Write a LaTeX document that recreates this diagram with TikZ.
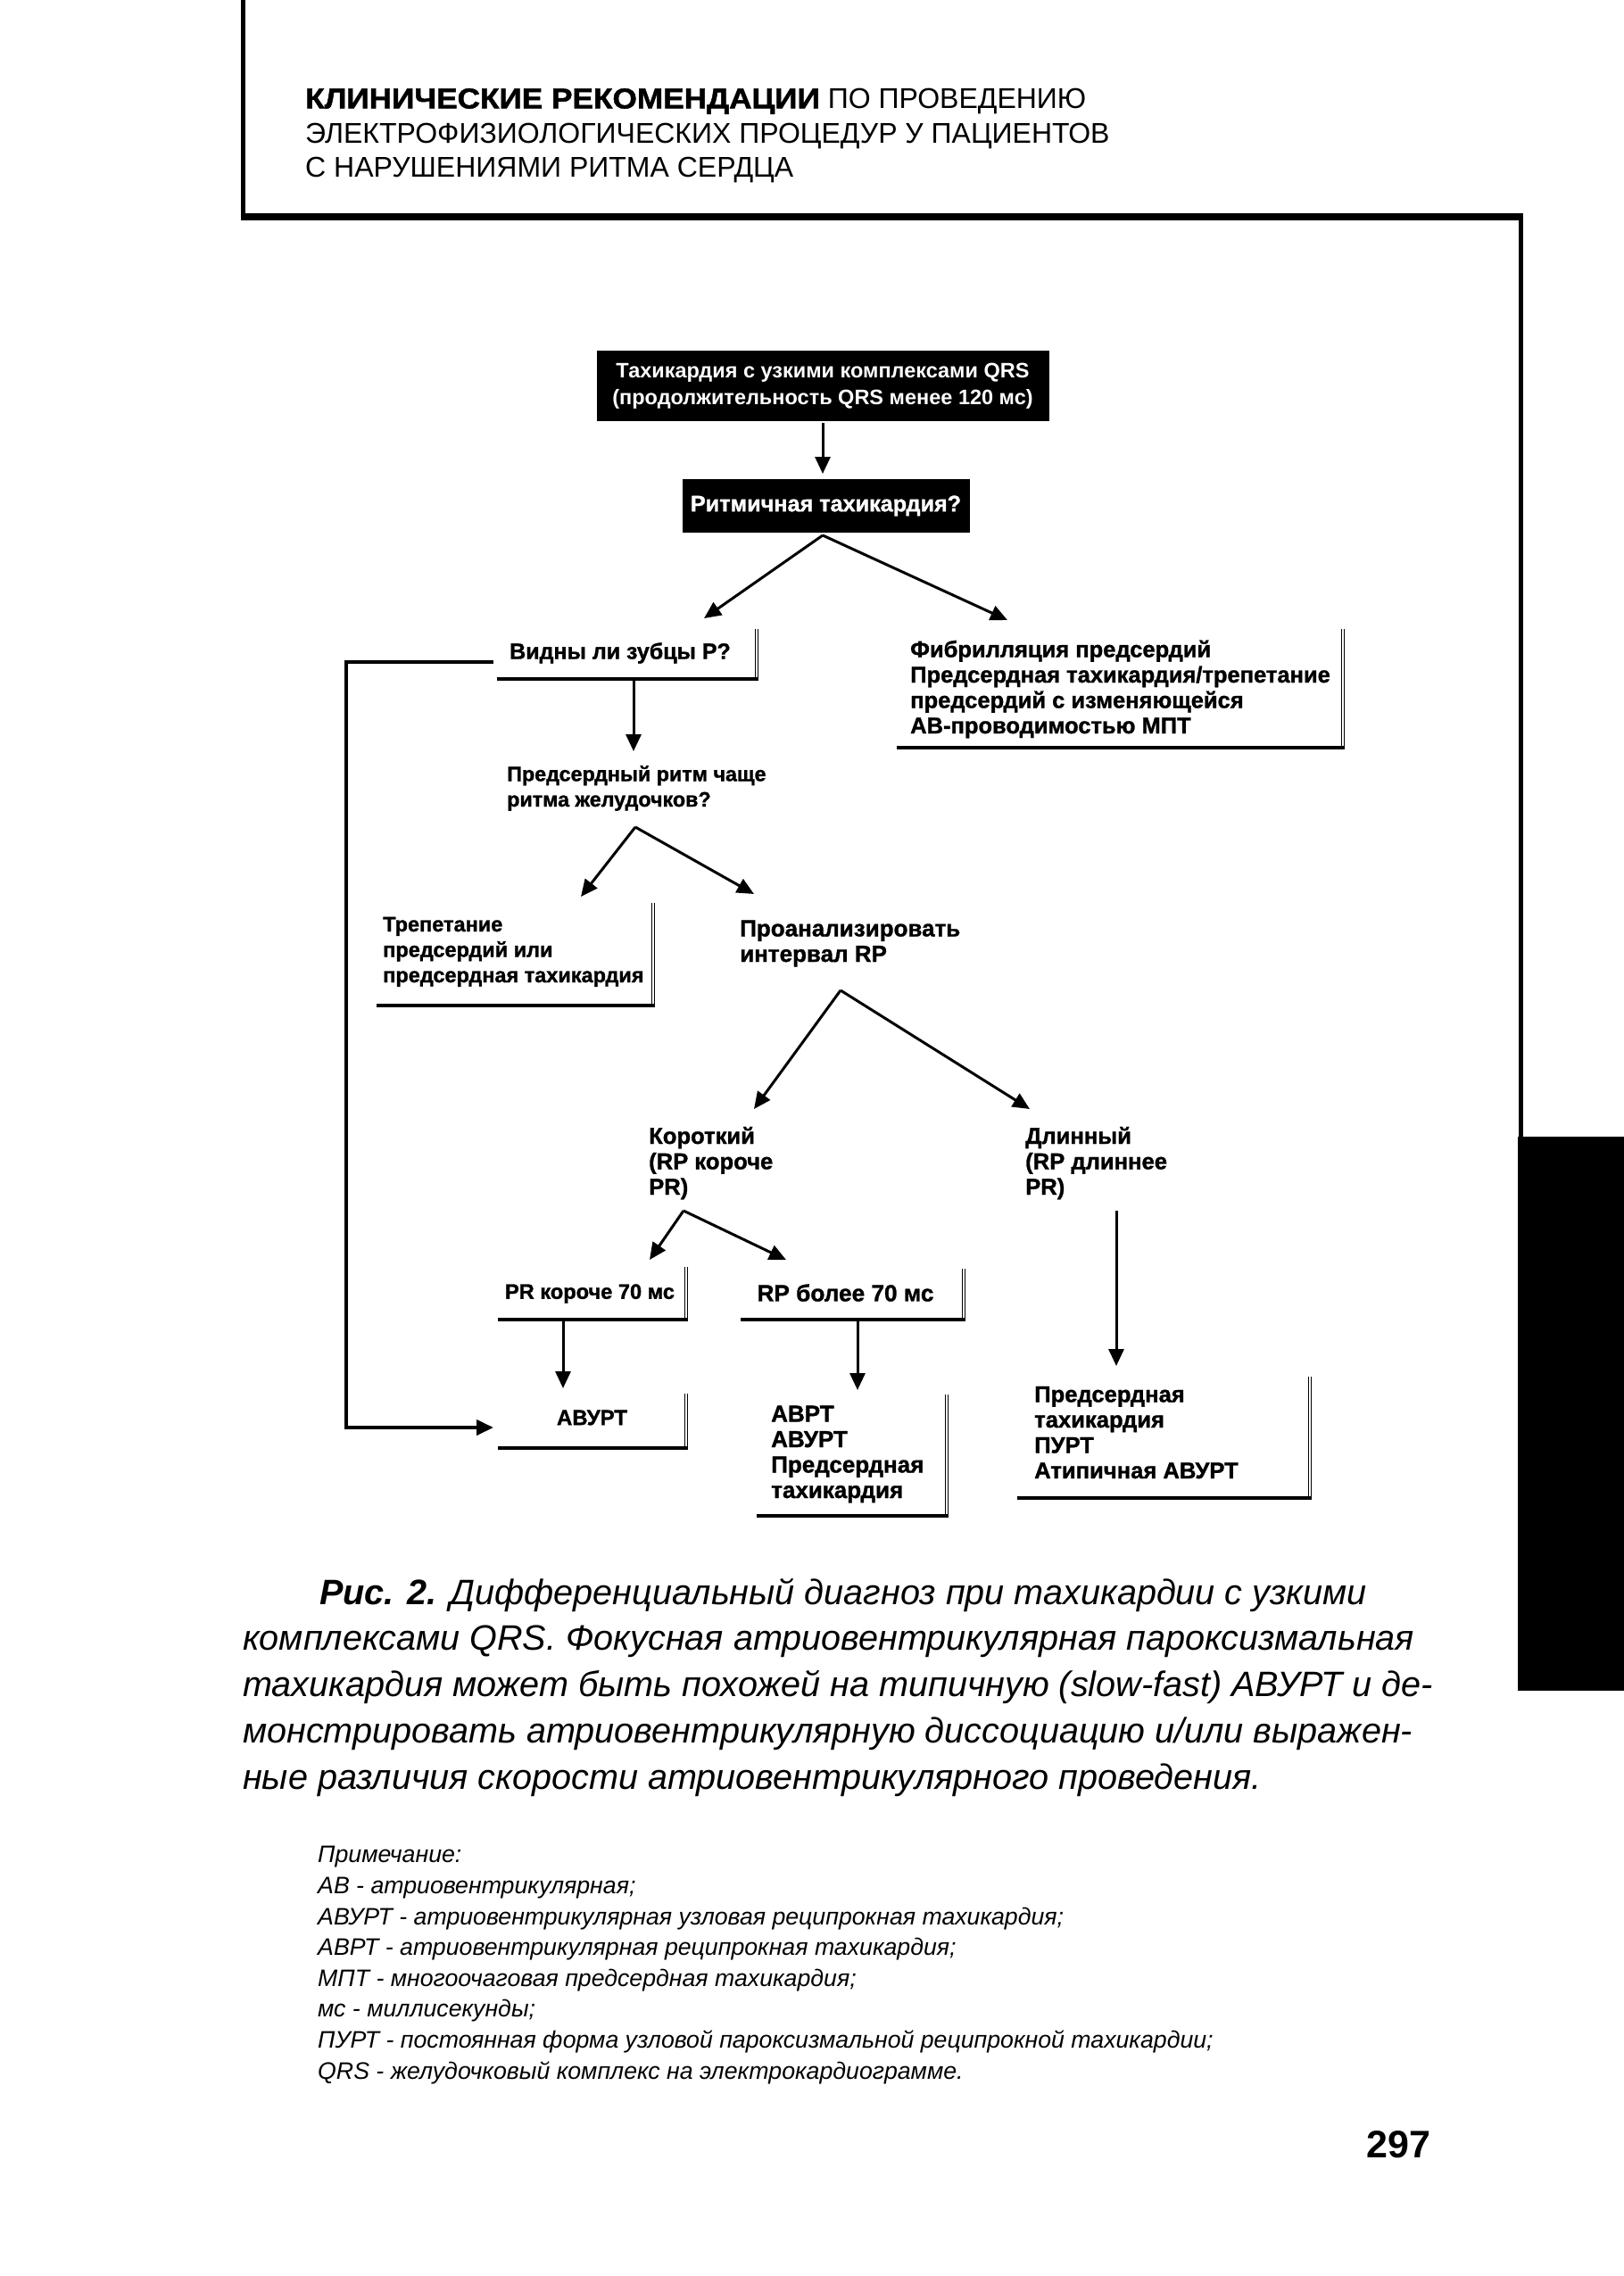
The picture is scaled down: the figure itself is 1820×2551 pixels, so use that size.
\documentclass[tikz,border=0pt]{standalone}
\usepackage{fontspec}
\setmainfont{Liberation Sans}
\newfontfamily\heavyfont{Liberation Sans}[FakeBold=1.2]
\newfontfamily\titlebold{Liberation Sans}[FakeStretch=1.1, FakeBold=1.5]
\usetikzlibrary{arrows.meta}
\newcommand\lblsize[1]{\fontsize{#1}{28.5}\selectfont\heavyfont\bfseries}
\tikzset{
  dkbox/.style={fill=black, text=white, align=center, inner sep=0pt},
  lbltxt/.style={font=\lblsize{25}, align=left, inner sep=0pt},
  arrline/.style={line width=3pt, -{Triangle[length=19pt,width=17pt]}},
  rline/.style={line width=1.4pt, double, double distance=1.4pt},
  bline/.style={line width=4.5pt},
  pgframe/.style={line width=5pt},
  captxt/.style={font=\fontsize{39.6}{51.7}\selectfont\itshape, align=left, inner sep=0pt},
  notetxt/.style={font=\fontsize{26.7}{34.6}\selectfont\itshape, align=left, inner sep=0pt}
}
\begin{document}
\begin{tikzpicture}[x=1pt,y=-1pt]
\useasboundingbox[fill=white] (0,0) rectangle (1820,2551);
% page frame
\draw[pgframe] (272.5,0) -- (272.5,243) -- (1704.5,243) -- (1704.5,1276);
\draw[line width=8pt] (270,243) -- (1707,243);
\fill[black] (1701,1274) rectangle (1820,1895);
% header (base = last line)
\node[anchor=base west, inner sep=0pt, align=left, font=\fontsize{32}{38.5}\selectfont] (hdr) at (342,198.5)
  {{\titlebold\bfseries КЛИНИЧЕСКИЕ РЕКОМЕНДАЦИИ} ПО ПРОВЕДЕНИЮ\\ЭЛЕКТРОФИЗИОЛОГИЧЕСКИХ ПРОЦЕДУР У ПАЦИЕНТОВ\\С НАРУШЕНИЯМИ РИТМА СЕРДЦА};
% flowchart
\node[dkbox, font=\fontsize{23.5}{30}\selectfont\bfseries, minimum width=507pt, minimum height=79pt] (q1) at (922,432.5)
  {Тахикардия с узкими комплексами QRS\\(продолжительность QRS менее 120 мс)};
\node[dkbox, font=\fontsize{25.2}{30}\selectfont\heavyfont\bfseries, minimum width=322pt, minimum height=60pt] (q2) at (925.5,567) {Ритмичная тахикардия?};
\coordinate (a1s) at (922,474);
\coordinate (a1e) at (922,531);
\draw[arrline] (a1s) -- (a1e);
\coordinate (s1) at (922,600);
\coordinate (t1l) at (789,693);
\coordinate (t1r) at (1129,695);
\draw[arrline] (s1) -- (t1l);
\draw[arrline] (s1) -- (t1r);

\node[lbltxt, anchor=center] (q3) at (695,732) {Видны ли зубцы P?};
\draw[rline] (848,705) -- (848,761);
\draw[bline] (557,761) -- (850,761);
\coordinate (lp0) at (553,742);
\coordinate (lp1) at (388,742);
\coordinate (lp2) at (388,1600);
\coordinate (lp3) at (553,1600);
\draw[line width=4pt, -{Triangle[length=19pt,width=17pt]}] (lp0) -- (lp1) -- (lp2) -- (lp3);
\coordinate (a3s) at (710,763);
\coordinate (a3e) at (710,842);
\draw[arrline] (a3s) -- (a3e);

\node[lbltxt, font=\lblsize{23.3}, anchor=base west] (q4) at (568,904) {Предсердный ритм чаще\\ритма желудочков?};

\node[lbltxt, font=\lblsize{25.5}, anchor=base west] (fib) at (1020,822)
  {Фибрилляция предсердий\\Предсердная тахикардия/трепетание\\предсердий с изменяющейся\\АВ-проводимостью МПТ};
\draw[rline] (1505,705) -- (1505,838);
\draw[bline] (1005,838) -- (1507,838);

\coordinate (s2) at (712,927);
\coordinate (t2l) at (651,1005);
\coordinate (t2r) at (845,1002);
\draw[arrline] (s2) -- (t2l);
\draw[arrline] (s2) -- (t2r);

\node[lbltxt, font=\lblsize{23.5}, anchor=base west] (fl) at (429,1101)
  {Трепетание\\предсердий или\\предсердная тахикардия};
\draw[rline] (732,1012) -- (732,1127);
\draw[bline] (422,1127) -- (734,1127);

\node[lbltxt, font=\lblsize{26}, anchor=base west] (rp) at (829,1078) {Проанализировать\\интервал RP};

\coordinate (s3) at (942,1110);
\coordinate (t3l) at (845,1243);
\coordinate (t3r) at (1154,1243);
\draw[arrline] (s3) -- (t3l);
\draw[arrline] (s3) -- (t3r);

\node[lbltxt, font=\lblsize{25.6}, anchor=base west] (sh) at (727,1339) {Короткий\\(RP короче\\PR)};
\node[lbltxt, font=\lblsize{25.6}, anchor=base west] (lo) at (1149,1339) {Длинный\\(RP длиннее\\PR)};

\coordinate (s4) at (766,1357);
\coordinate (t4l) at (728,1412);
\coordinate (t4r) at (881,1412);
\draw[arrline] (s4) -- (t4l);
\draw[arrline] (s4) -- (t4r);

\node[lbltxt, font=\lblsize{23.6}, anchor=center] (pr) at (661,1450) {PR короче 70 мс};
\draw[rline] (769,1420) -- (769,1479);
\draw[bline] (558,1479) -- (771,1479);
\node[lbltxt, font=\lblsize{26.2}, anchor=center] (rpm) at (947.5,1449) {RP более 70 мс};
\draw[rline] (1080,1422) -- (1080,1479);
\draw[bline] (830,1479) -- (1082,1479);

\coordinate (a5s) at (631,1481);
\coordinate (a5e) at (631,1556);
\draw[arrline] (a5s) -- (a5e);
\coordinate (a6s) at (961,1481);
\coordinate (a6e) at (961,1558);
\draw[arrline] (a6s) -- (a6e);
\coordinate (a7s) at (1251,1357);
\coordinate (a7e) at (1251,1531);
\draw[arrline] (a7s) -- (a7e);

\node[lbltxt, font=\lblsize{24}, anchor=center] (avurt) at (663.5,1589) {АВУРТ};
\draw[rline] (769,1562) -- (769,1623);
\draw[bline] (558,1623) -- (771,1623);

\node[lbltxt, font=\lblsize{26}, anchor=base west] (avrt) at (864,1679) {АВРТ\\АВУРТ\\Предсердная\\тахикардия};
\draw[rline] (1061,1563) -- (1061,1699);
\draw[bline] (848,1699) -- (1063,1699);

\node[lbltxt, font=\lblsize{25.6}, anchor=base west] (atyp) at (1159,1657) {Предсердная\\тахикардия\\ПУРТ\\Атипичная АВУРТ};
\draw[rline] (1468,1543) -- (1468,1679);
\draw[bline] (1140,1679) -- (1470,1679);

% caption (base = last line)
\node[captxt, anchor=base west] (capt) at (272,2005)
  {\hspace*{86pt}\textbf{Рис. 2.} Дифференциальный диагноз при тахикардии с узкими\\
   комплексами QRS. Фокусная атриовентрикулярная пароксизмальная\\
   тахикардия может быть похожей на типичную (slow-fast) АВУРТ и де-\\
   монстрировать атриовентрикулярную диссоциацию и/или выражен-\\
   ные различия скорости атриовентрикулярного проведения.};
% notes (base = last line)
\node[notetxt, anchor=base west] (notes) at (356,2330)
  {Примечание:\\
   АВ - атриовентрикулярная;\\
   АВУРТ - атриовентрикулярная узловая реципрокная тахикардия;\\
   АВРТ - атриовентрикулярная реципрокная тахикардия;\\
   МПТ - многоочаговая предсердная тахикардия;\\
   мс - миллисекунды;\\
   ПУРТ - постоянная форма узловой пароксизмальной реципрокной тахикардии;\\
   QRS - желудочковый комплекс на электрокардиограмме.};
\node[anchor=base west, inner sep=0pt, font=\fontsize{43}{50}\selectfont\bfseries] (pg) at (1531,2418) {297};
\end{tikzpicture}
\end{document}
